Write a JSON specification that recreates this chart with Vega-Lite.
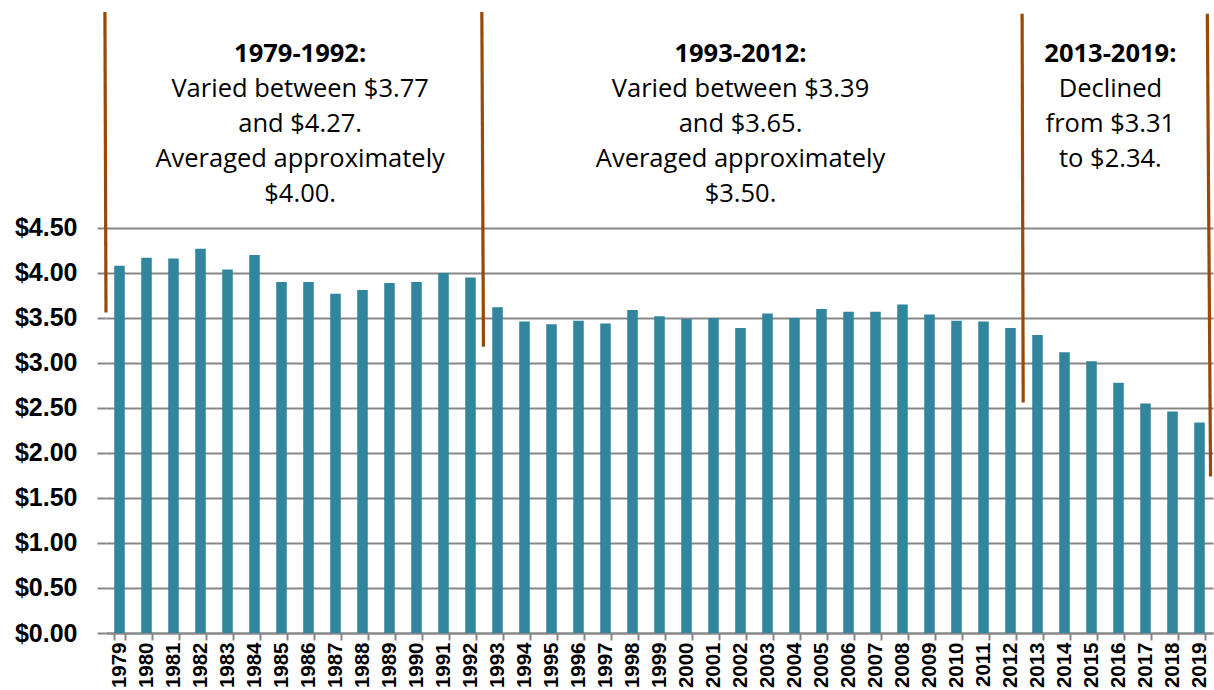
{
  "$schema": "https://vega.github.io/schema/vega-lite/v6.json",
  "autosize": {"type": "none"},
  "padding": {"left": 106, "top": 0, "right": 1, "bottom": 57},
  "width": 1107,
  "height": 633,
  "background": "white",
  "config": {"view": {"stroke": null}},
  "datasets": {
    "prices": [
      {"year": 1979, "value": 4.08}, {"year": 1980, "value": 4.17}, {"year": 1981, "value": 4.16},
      {"year": 1982, "value": 4.27}, {"year": 1983, "value": 4.04}, {"year": 1984, "value": 4.20},
      {"year": 1985, "value": 3.90}, {"year": 1986, "value": 3.90}, {"year": 1987, "value": 3.77},
      {"year": 1988, "value": 3.81}, {"year": 1989, "value": 3.89}, {"year": 1990, "value": 3.90},
      {"year": 1991, "value": 4.00}, {"year": 1992, "value": 3.95}, {"year": 1993, "value": 3.62},
      {"year": 1994, "value": 3.46}, {"year": 1995, "value": 3.43}, {"year": 1996, "value": 3.47},
      {"year": 1997, "value": 3.44}, {"year": 1998, "value": 3.59}, {"year": 1999, "value": 3.52},
      {"year": 2000, "value": 3.49}, {"year": 2001, "value": 3.50}, {"year": 2002, "value": 3.39},
      {"year": 2003, "value": 3.55}, {"year": 2004, "value": 3.50}, {"year": 2005, "value": 3.60},
      {"year": 2006, "value": 3.57}, {"year": 2007, "value": 3.57}, {"year": 2008, "value": 3.65},
      {"year": 2009, "value": 3.54}, {"year": 2010, "value": 3.47}, {"year": 2011, "value": 3.46},
      {"year": 2012, "value": 3.39}, {"year": 2013, "value": 3.31}, {"year": 2014, "value": 3.12},
      {"year": 2015, "value": 3.02}, {"year": 2016, "value": 2.78}, {"year": 2017, "value": 2.55},
      {"year": 2018, "value": 2.46}, {"year": 2019, "value": 2.34}
    ],
    "dividers": [
      {"xTop": 1978.46, "xBottom": 1978.5, "yTop": 6.9, "yBottom": 3.56},
      {"xTop": 1992.42, "xBottom": 1992.48, "yTop": 6.9, "yBottom": 3.18},
      {"xTop": 2012.43, "xBottom": 2012.47, "yTop": 6.88, "yBottom": 2.56},
      {"xTop": 2019.29, "xBottom": 2019.41, "yTop": 6.88, "yBottom": 1.74}
    ],
    "titles": [
      {"x": 1985.69, "y": 6.344, "text": "1979-1992:"},
      {"x": 2002.0, "y": 6.344, "text": "1993-2012:"},
      {"x": 2015.7, "y": 6.344, "text": "2013-2019:"}
    ],
    "notes": [
      {"x": 1985.69, "y": 5.959, "text": "Varied between $3.77"},
      {"x": 1985.69, "y": 5.570, "text": "and $4.27."},
      {"x": 1985.69, "y": 5.181, "text": "Averaged approximately"},
      {"x": 1985.69, "y": 4.792, "text": "$4.00."},
      {"x": 2002.0, "y": 5.959, "text": "Varied between $3.39"},
      {"x": 2002.0, "y": 5.570, "text": "and $3.65."},
      {"x": 2002.0, "y": 5.181, "text": "Averaged approximately"},
      {"x": 2002.0, "y": 4.792, "text": "$3.50."},
      {"x": 2015.7, "y": 5.959, "text": "Declined"},
      {"x": 2015.7, "y": 5.570, "text": "from $3.31"},
      {"x": 2015.7, "y": 5.181, "text": "to $2.34."}
    ]
  },
  "layer": [
    {
      "data": {"name": "prices"},
      "mark": {"type": "bar", "color": "#31859C"},
      "encoding": {
        "x": {
          "field": "year", "type": "ordinal",
          "scale": {"paddingInner": 0.61, "paddingOuter": 0.305},
          "axis": {
            "title": null, "labelAngle": -90, "labelFont": "Liberation Sans",
            "labelFontWeight": "bold", "labelFontSize": 20.5, "labelColor": "black",
            "labelPadding": 2, "tickSize": 7, "tickBand": "extent",
            "tickColor": "#878787", "tickWidth": 2,
            "domainColor": "#878787", "domainWidth": 2, "grid": false
          }
        },
        "y": {
          "field": "value", "type": "quantitative",
          "scale": {"domain": [0, 7.0333], "nice": false, "zero": true},
          "axis": {
            "title": null, "values": [0, 0.5, 1, 1.5, 2, 2.5, 3, 3.5, 4, 4.5],
            "format": "$.2f", "labelFont": "Liberation Sans", "labelFontWeight": "bold",
            "labelFontSize": 25, "labelColor": "black", "labelPadding": 20,
            "tickSize": 9, "tickColor": "#878787", "tickWidth": 2,
            "grid": true, "gridColor": "#878787", "gridWidth": 2, "domain": false
          }
        }
      }
    },
    {
      "layer": [
        {
          "mark": {"type": "rule", "color": "#878787", "strokeWidth": 2},
          "encoding": {
            "x": {"datum": 1978.5, "type": "quantitative", "scale": {"domain": [1978.5, 2019.5], "nice": false, "zero": false}, "axis": null},
            "y": {"datum": 0, "type": "quantitative", "scale": {"domain": [0, 7.0333], "nice": false}},
            "y2": {"datum": 4.5}
          }
        },
        {
          "data": {"name": "dividers"},
          "mark": {"type": "rule", "color": "#984807", "strokeWidth": 3.2},
          "encoding": {
            "x": {"field": "xTop", "type": "quantitative", "scale": {"domain": [1978.5, 2019.5], "nice": false, "zero": false}, "axis": null},
            "x2": {"field": "xBottom"},
            "y": {"field": "yTop", "type": "quantitative", "scale": {"domain": [0, 7.0333], "nice": false}},
            "y2": {"field": "yBottom"}
          }
        },
        {
          "data": {"name": "titles"},
          "mark": {"type": "text", "font": "Open Sans", "fontWeight": "bold", "fontSize": 25.5, "align": "center", "baseline": "alphabetic", "color": "black"},
          "encoding": {
            "x": {"field": "x", "type": "quantitative", "scale": {"domain": [1978.5, 2019.5], "nice": false, "zero": false}, "axis": null},
            "y": {"field": "y", "type": "quantitative", "scale": {"domain": [0, 7.0333], "nice": false}},
            "text": {"field": "text"}
          }
        },
        {
          "data": {"name": "notes"},
          "mark": {"type": "text", "font": "Open Sans", "fontSize": 25.5, "align": "center", "baseline": "alphabetic", "color": "black"},
          "encoding": {
            "x": {"field": "x", "type": "quantitative", "scale": {"domain": [1978.5, 2019.5], "nice": false, "zero": false}, "axis": null},
            "y": {"field": "y", "type": "quantitative", "scale": {"domain": [0, 7.0333], "nice": false}},
            "text": {"field": "text"}
          }
        }
      ]
    }
  ],
  "resolve": {"scale": {"x": "independent"}, "axis": {"x": "independent"}}
}
